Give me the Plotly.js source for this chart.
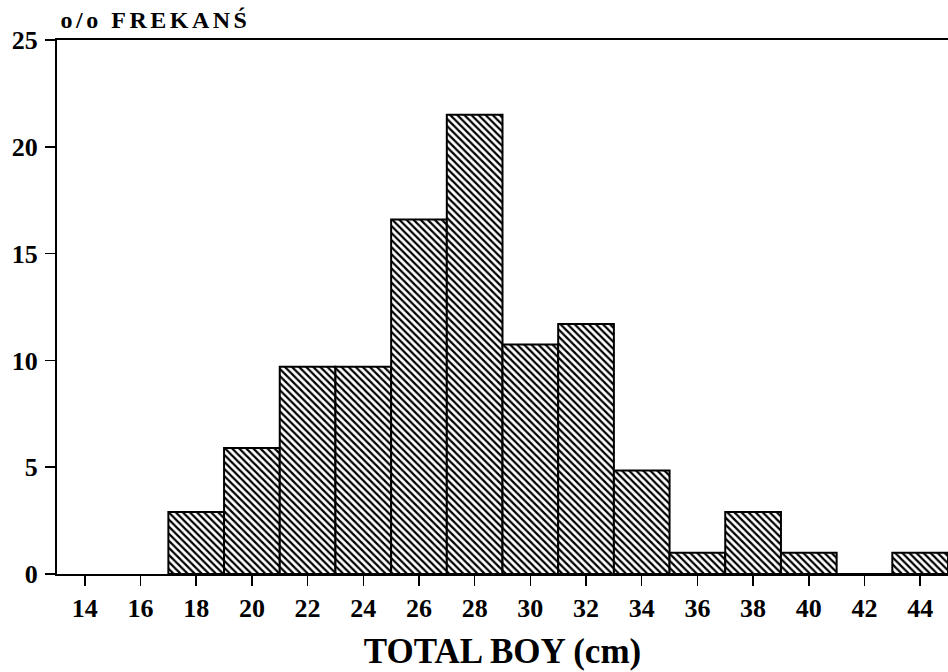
<!DOCTYPE html>
<html>
<head>
<meta charset="utf-8">
<script src="https://cdn.plot.ly/plotly-3.0.1.min.js"></script>
<style>html,body{margin:0;padding:0;background:#fff;}#chart{width:948px;height:672px;}</style>
</head>
<body>
<div id="chart"></div>
<script>
// Length classes (cm) - bin centres, bin width 2 cm
const lengthClasses = [18, 20, 22, 24, 26, 28, 30, 32, 34, 36, 38, 40, 42, 44];
// Percent frequency for each class
const percentFrequency = [2.9, 5.9, 9.7, 9.7, 16.6, 21.5, 10.75, 11.7, 4.85, 1.0, 2.9, 1.0, 0, 1.0];
const binWidth = 2;
const xTickValues = [14, 16, 18, 20, 22, 24, 26, 28, 30, 32, 34, 36, 38, 40, 42, 44];
const yTickValues = [0, 5, 10, 15, 20, 25];
const yTitleText = "o/o FREKANŚ";
const xTitleText = "TOTAL BOY (cm)";

const serif = "Liberation Serif, Times New Roman, serif";

const trace = {
  type: "bar",
  x: lengthClasses,
  y: percentFrequency,
  width: lengthClasses.map(() => binWidth),
  marker: {
    color: "white",
    line: {color: "black", width: 2},
    pattern: {shape: "\\", size: 5, solidity: 0.45, fgcolor: "black", bgcolor: "white", fillmode: "replace"}
  },
  hoverinfo: "skip"
};

const layout = {
  width: 948,
  height: 672,
  paper_bgcolor: "white",
  plot_bgcolor: "white",
  showlegend: false,
  margin: {l: 57, r: 0, t: 40, b: 98, pad: 0},
  bargap: 0,
  title: {
    text: yTitleText,
    font: {family: serif, size: 24, color: "black", weight: "bold"},
    xref: "paper", x: 0.004, xanchor: "left",
    yref: "container", y: 1 - 20 / 672, yanchor: "middle"
  },
  xaxis: {
    range: [13, 45],
    tickvals: xTickValues,
    ticktext: xTickValues.map(String),
    ticks: "outside",
    ticklen: 10,
    tickwidth: 1.5,
    tickcolor: "black",
    ticklabelstandoff: 0,
    showline: true,
    linecolor: "black",
    linewidth: 2,
    mirror: true,
    showgrid: false,
    zeroline: false,
    tickfont: {family: serif, size: 26, color: "black", weight: "bold"},
    title: {
      text: xTitleText,
      font: {family: serif, size: 35, color: "black", weight: "bold"},
      standoff: 16
    }
  },
  yaxis: {
    range: [0, 25],
    tickvals: yTickValues,
    ticktext: yTickValues.map(String),
    ticks: "outside",
    ticklen: 10,
    tickwidth: 1.5,
    tickcolor: "black",
    ticklabelstandoff: 2,
    showline: true,
    linecolor: "black",
    linewidth: 2,
    showgrid: false,
    zeroline: false,
    tickfont: {family: serif, size: 26, color: "black", weight: "bold"}
  }
};

Plotly.newPlot("chart", [trace], layout, {staticPlot: true, displayModeBar: false}).then(function (gd) {
  const t = gd.querySelector(".gtitle");
  if (t) t.style.letterSpacing = "3.5px";
});
</script>
</body>
</html>
